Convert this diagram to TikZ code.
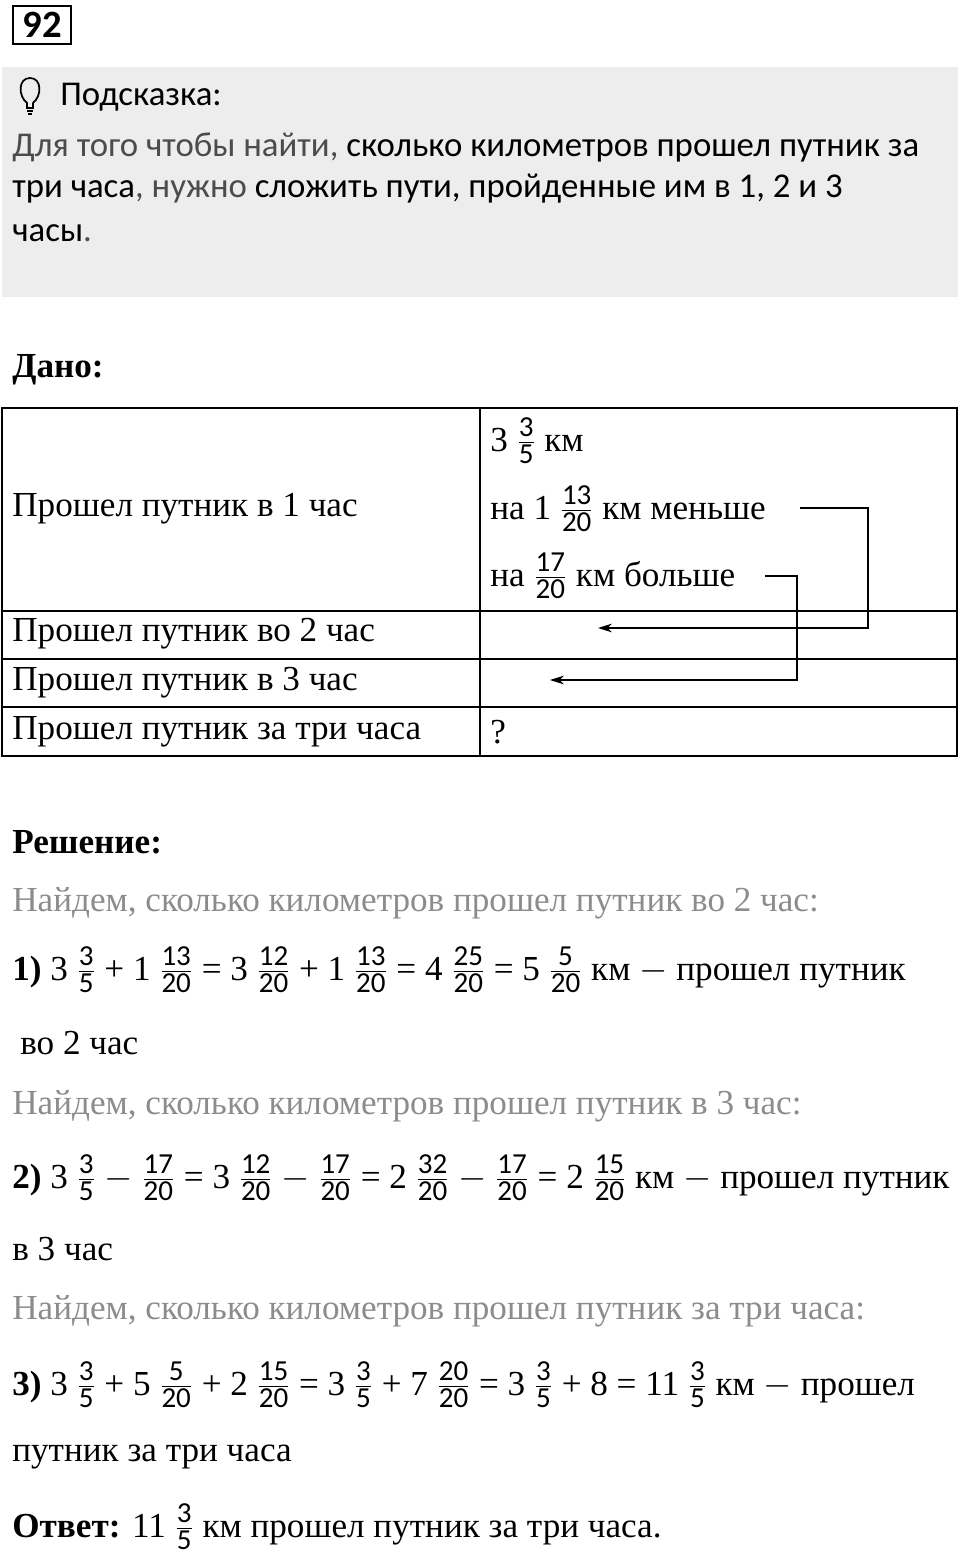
\documentclass[tikz,border=0pt]{standalone}
\usepackage{fontspec}
\setmainfont{Liberation Serif}
\newfontfamily\hintfont{Carlito}
\usetikzlibrary{arrows.meta}
\newcommand{\fr}[2]{\ensuremath{\frac{\mbox{\hintfont\fontsize{16.5}{16}\selectfont #1}}{\mbox{\hintfont\fontsize{16.5}{16}\selectfont #2}}}}
\begin{document}
\begin{tikzpicture}
		[x=0.02cm,y=-0.02cm,
		 txt/.style={anchor=west, inner sep=0pt, font=\fontsize{20}{24}\selectfont},
		 hint/.style={anchor=west, inner sep=0pt, font=\hintfont\fontsize{19.8}{24}\selectfont},
		 gr/.style={txt, text=black!45},
		 arr/.style={-{Stealth[length=8pt,width=5pt]}, thick}]
		\useasboundingbox (0,0) rectangle (960,1561);
		%-----hint
		\draw[line width=1.6pt] (13,6) rectangle (71,44);
		\node[font=\hintfont\bfseries\fontsize{22}{22}\selectfont] (num) at (42,25) {92};
		\fill[black!7] (2,67) rectangle (958,297);
		\draw[line width=1pt] (27,103) .. controls (18,96) and (18,78) .. (30,78)
		  .. controls (42,78) and (42,96) .. (33,103) -- (33,108) -- (27,108) -- cycle;
		\draw[line width=1pt] (27,111) -- (33,111) (28,114) -- (32,114);
		\node[hint] (h0) at (60,97) {Подсказка:};
		\node[hint] (h1) at (12,147) {\textcolor{black!70}{Для того чтобы найти,} сколько километров прошел путник за};
		\node[hint] (h2) at (12,189) {три часа\textcolor{black!70}{, нужно} сложить пути, пройденные им в 1, 2 и 3};
		\node[hint] (h3) at (12,233) {часы\textcolor{black!70}{.}};
		%-----table
		\node[txt, font=\bfseries\fontsize{20}{24}\selectfont] (dano) at (12,370) {Дано:};
		\draw[line width=0.8pt] (2,408) rectangle (957,756);
		\foreach \y in {611,659,707} \draw[line width=0.8pt] (2,\y) -- (957,\y);
		\draw[line width=0.8pt] (480,408) -- (480,756);
		\node[txt] (r1) at (12,509) {Прошел путник в 1 час};
		\node[txt] (r2) at (12,634) {Прошел путник во 2 час};
		\node[txt] (r3) at (12,683) {Прошел путник в 3 час};
		\node[txt] (r4) at (12,732) {Прошел путник за три часа};
		\node[txt] (v1) at (490,441) {3 \fr{3}{5} км};
		\node[txt] (v2) at (490,509) {на 1 \fr{13}{20} км меньше};
		\node[txt] (v3) at (490,576) {на \fr{17}{20} км больше};
		\node[txt] (v4) at (490,732) {?};
		\coordinate (a1) at (800,508);
		\coordinate (b1) at (598,628);
		\coordinate (a2) at (765,576);
		\coordinate (b2) at (550,680);
		\draw[arr] (a1) -| (868,628) -- (b1);
		\draw[arr] (a2) -| (797,680) -- (b2);
		%-----solution
		\node[txt, font=\bfseries\fontsize{20}{24}\selectfont] (resh) at (12,842) {Решение:};
		\node[gr] (g1) at (12,903) {Найдем, сколько километров прошел путник во 2 час:};
		\node[txt] (s1) at (12,970) {\textbf{1)} 3 \fr{3}{5} + 1 \fr{13}{20} = 3 \fr{12}{20} + 1 \fr{13}{20} = 4 \fr{25}{20} = 5 \fr{5}{20} км $-$ прошел путник};
		\node[txt] (s1b) at (20,1043) {во 2 час};
		\node[gr] (g2) at (12,1106) {Найдем, сколько километров прошел путник в 3 час:};
		\node[txt] (s2) at (12,1178) {\textbf{2)} 3 \fr{3}{5} $-$ \fr{17}{20} = 3 \fr{12}{20} $-$ \fr{17}{20} = 2 \fr{32}{20} $-$ \fr{17}{20} = 2 \fr{15}{20} км $-$ прошел путник};
		\node[txt] (s2b) at (12,1249) {в 3 час};
		\node[gr] (g3) at (12,1311) {Найдем, сколько километров прошел путник за три часа:};
		\node[txt] (s3) at (12,1385) {\textbf{3)} 3 \fr{3}{5} + 5 \fr{5}{20} + 2 \fr{15}{20} = 3 \fr{3}{5} + 7 \fr{20}{20} = 3 \fr{3}{5} + 8 = 11 \fr{3}{5} км $-$ прошел};
		\node[txt] (s3b) at (12,1457) {путник за три часа};
		\node[txt] (ans) at (12,1527) {\textbf{Ответ:} 11 \fr{3}{5} км прошел путник за три часа.};
\end{tikzpicture}
\end{document}
